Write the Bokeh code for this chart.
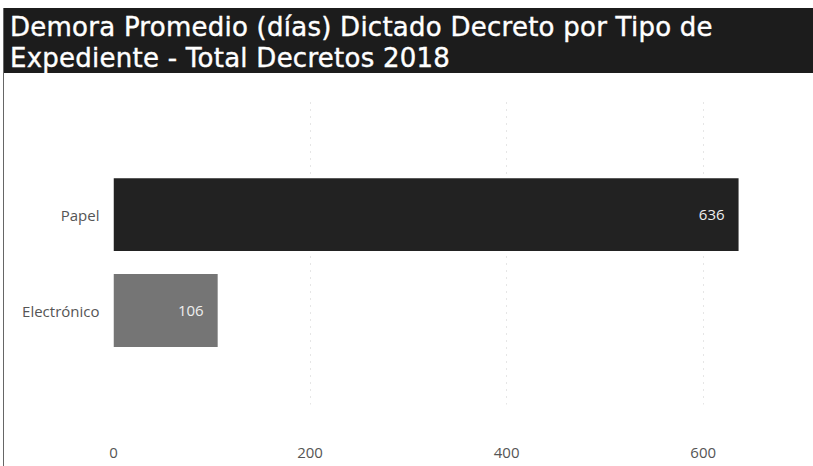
from bokeh.plotting import figure
from bokeh.layouts import column
from bokeh.models import Range1d, FixedTicker, ColumnDataSource, LabelSet, Div
from bokeh.embed import file_html
from bokeh.resources import INLINE
from bokeh.core.properties import value

categories = ["Electrónico", "Papel"]
values = [106, 636]
bar_colors = ["#757575", "#222222"]
x_ticks = [0, 200, 400, 600]
title_lines = ["Demora Promedio (días) Dictado Decreto por Tipo de",
               "Expediente - Total Decretos 2018"]

pos = list(range(len(categories)))
src = ColumnDataSource(dict(y=pos, v=values, lbl=[str(v) for v in values], color=bar_colors))

span_style = "display:inline-block; white-space:nowrap;"
title_html = "<br>".join(f'<span style="{span_style}">{t}</span>' for t in title_lines)
title = Div(text=title_html, width=810, height=65, margin=(8, 0, 0, 3),
            styles={"background-color": "#1c1c1c", "color": "white",
                    "font-family": "'DejaVu Sans', sans-serif", "letter-spacing": "0.25px",
                    "font-weight": "normal", "-webkit-text-stroke": "0.4px white",
                    "font-size": "26px", "line-height": "31px", "padding": "4px 0 0 6px",
                    "box-sizing": "border-box", "border-left": "1px solid #666666"})

p = figure(width=810, height=393, output_backend="svg", toolbar_location=None,
           x_range=Range1d(0, 640), y_range=Range1d(-0.98, 2.19),
           min_border_left=109, min_border_right=72, min_border_top=27, min_border_bottom=62,
           margin=(0, 0, 0, 3), styles={"border-left": "1px solid #666666"})
p.outline_line_color = None

p.hbar(y="y", left=0, right="v", height=0.76, fill_color="color", line_color=None, source=src)

labels = LabelSet(x="v", y="y", text="lbl", x_offset=-14, text_align="right", text_baseline="middle",
                  text_color="#eeeeee", text_font_size="15px", text_font=value("Open Sans"), source=src)
p.add_layout(labels)

p.xaxis.ticker = FixedTicker(ticks=x_ticks)
p.xaxis.axis_line_color = None
p.xaxis.major_tick_line_color = None
p.xaxis.minor_tick_line_color = None
p.xaxis.major_label_standoff = 37
p.xaxis.major_label_text_font = "Open Sans"
p.xaxis.major_label_text_font_size = "15px"
p.xaxis.major_label_text_color = "#555555"

p.yaxis.ticker = FixedTicker(ticks=pos)
p.yaxis.major_label_overrides = {i: c for i, c in zip(pos, categories)}
p.yaxis.axis_line_color = None
p.yaxis.major_tick_line_color = None
p.yaxis.minor_tick_line_color = None
p.yaxis.major_label_standoff = 8
p.yaxis.major_label_text_font = "Open Sans"
p.yaxis.major_label_text_font_size = "15px"
p.yaxis.major_label_text_color = "#555555"

p.xgrid.ticker = FixedTicker(ticks=x_ticks)
p.xgrid.grid_line_color = "#cccccc"
p.xgrid.grid_line_dash = "1 6"
p.ygrid.visible = False

layout = column(title, p, spacing=0)
open("out.html", "w").write(file_html(layout, INLINE))
